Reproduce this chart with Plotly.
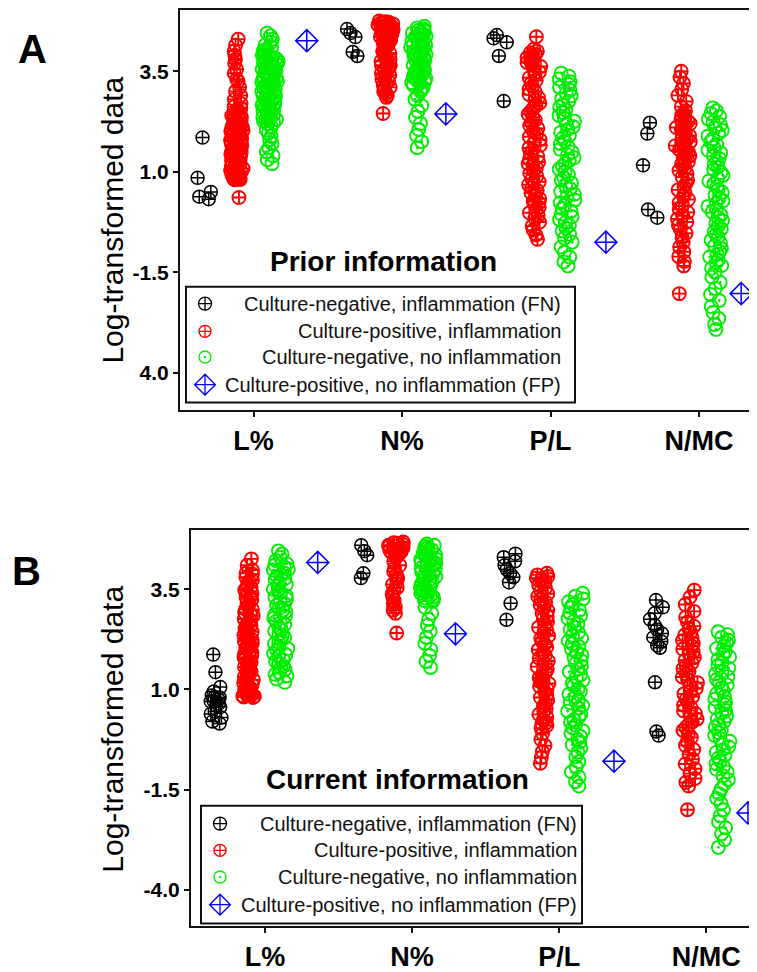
import plotly.graph_objects as go

# ---------------- data ----------------
categories = ["L%", "N%", "P/L", "N/MC"]
group_names = [
    "Culture-negative, inflammation (FN)",
    "Culture-positive, inflammation",
    "Culture-negative, no inflammation",
    "Culture-positive, no inflammation (FP)",
]
ytick_vals = [3.5, 1.0, -1.5, -4.0]
ytick_text_A = ["3.5", "1.0", "-1.5", "4.0"]
ytick_text_B = ["3.5", "1.0", "-1.5", "-4.0"]

# Panel A (Prior information): one list per category (L%, N%, P/L, N/MC)
prior_fn = [
    [1.85, 0.85, 0.5, 0.38, 0.32],
    [4.55, 4.45, 4.35, 3.98, 3.88],
    [4.4, 4.32, 4.22, 3.88, 2.76],
    [2.22, 1.95, 1.16, 0.06, -0.14],
]
prior_pos = [
    [4.3, 4.15, 4.0, 3.9, 3.8, 3.7, 3.55, 3.45, 3.3, 3.25, 3.1, 3.0, 2.9, 2.8, 2.7, 2.62, 2.55, 2.48,
     2.42, 2.36, 2.3, 2.24, 2.18, 2.12, 2.06, 2.0, 1.95, 1.9, 1.85, 1.8, 1.75, 1.7, 1.65, 1.6, 1.55,
     1.5, 1.45, 1.4, 1.35, 1.3, 1.25, 1.2, 1.15, 1.1, 1.05, 1.0, 0.95, 0.9, 0.87, 0.84, 0.82, 0.8,
     0.81, 0.83, 0.86, 0.92, 0.97, 1.03, 1.08, 1.13, 1.18, 1.23, 1.28, 1.33, 1.38, 1.43, 1.48, 1.53,
     1.58, 1.63, 1.68, 1.73, 1.78, 1.83, 1.88, 1.93, 1.98, 2.03, 2.09, 2.15, 2.21, 2.27, 2.33, 2.4,
     2.5, 2.58, 0.36],
    [4.75, 4.72, 4.7, 4.68, 4.65, 4.62, 4.6, 4.58, 4.55, 4.52, 4.5, 4.48, 4.45, 4.42, 4.4, 4.38, 4.35,
     4.32, 4.3, 4.27, 4.25, 4.22, 4.2, 4.73, 4.67, 4.63, 4.57, 4.53, 4.47, 4.43, 4.37, 4.33, 4.28,
     4.15, 4.1, 4.05, 4.0, 3.95, 3.9, 3.85, 3.8, 3.75, 3.7, 3.65, 3.6, 3.55, 3.5, 3.45, 3.4, 3.35,
     3.3, 3.25, 3.2, 3.15, 3.1, 3.05, 3.0, 2.95, 2.9, 2.85, 3.65, 2.45],
    [4.36, 4.05, 4.0, 3.96, 3.92, 3.88, 3.84, 3.8, 3.76, 3.72, 3.68, 3.62, 3.55, 3.48, 3.41, 3.34,
     3.27, 3.2, 3.13, 3.06, 2.99, 2.92, 2.85, 2.78, 2.71, 2.64, 2.57, 2.5, 2.43, 2.36, 2.29, 2.22,
     2.15, 2.08, 2.01, 1.94, 1.87, 1.8, 1.73, 1.66, 1.59, 1.52, 1.45, 1.38, 1.31, 1.24, 1.2, 1.17,
     1.1, 1.03, 0.96, 0.89, 0.82, 0.75, 0.68, 0.61, 0.54, 0.47, 0.4, 0.33, 0.26, 0.23, 0.19, 0.12,
     0.05, -0.02, -0.09, -0.16, -0.25, -0.35, -0.45, -0.57, -0.68],
    [3.5, 3.35, 3.2, 3.05, 2.9, 2.75, 2.62, 2.52, 2.45, 2.4, 2.35, 2.3, 2.25, 2.2, 2.15, 2.1, 2.05,
     2.0, 1.95, 1.9, 1.85, 1.8, 1.75, 1.7, 1.65, 1.6, 1.55, 1.5, 1.45, 1.4, 1.35, 1.3, 1.25, 1.2,
     1.15, 1.1, 1.03, 0.95, 0.87, 0.79, 0.71, 0.63, 0.55, 0.47, 0.39, 0.31, 0.23, 0.15, 0.07, -0.01,
     -0.09, -0.17, -0.25, -0.33, -0.43, -0.53, -0.63, -0.75, -0.87, -0.99, -1.11, -1.23, -1.34, -2.03],
]
prior_neg = [
    [4.45, 4.38, 4.3, 4.22, 4.15, 4.1, 4.05, 4.0, 3.95, 3.9, 3.85, 3.8, 3.75, 3.7, 3.65, 3.6, 3.55,
     3.5, 3.45, 3.4, 3.35, 3.3, 3.25, 3.2, 3.15, 3.1, 3.05, 3.0, 2.95, 2.9, 2.85, 2.8, 2.75, 2.7,
     2.65, 2.6, 2.55, 2.5, 2.45, 2.4, 2.35, 2.3, 2.25, 2.2, 2.12, 2.04, 1.96, 1.88, 1.8, 1.7, 1.6,
     1.5, 1.4, 1.3, 1.2, 4.02, 3.97, 3.92, 3.87, 3.82, 3.77, 3.72, 3.67, 3.62, 3.57, 3.52, 3.47,
     3.42, 3.37, 3.32, 3.27, 3.22, 3.17, 3.12, 3.07, 3.02, 2.97, 2.92, 2.87, 2.82, 2.77, 2.72, 2.67,
     2.62, 2.57, 2.52, 2.47, 2.42, 2.37, 2.32, 2.27, 2.22],
    [4.62, 4.58, 4.55, 4.52, 4.5, 4.47, 4.45, 4.42, 4.4, 4.37, 4.35, 4.32, 4.3, 4.27, 4.25, 4.22,
     4.2, 4.17, 4.15, 4.12, 4.1, 4.07, 4.05, 4.02, 4.0, 3.97, 3.95, 3.92, 3.9, 3.87, 3.85, 3.82, 3.8,
     3.77, 3.75, 3.72, 3.7, 3.67, 3.65, 3.62, 3.6, 3.57, 3.55, 3.52, 3.5, 3.47, 3.45, 3.42, 3.4,
     3.37, 3.35, 3.32, 3.3, 3.27, 3.25, 3.22, 3.2, 3.15, 3.1, 3.05, 3.0, 2.9, 2.8, 2.65, 2.5, 2.35,
     2.2, 2.05, 1.9, 1.75, 1.6],
    [3.45, 3.38, 3.31, 3.24, 3.17, 3.1, 3.03, 2.96, 2.89, 2.82, 2.75, 2.68, 2.61, 2.54, 2.47, 2.4,
     2.33, 2.26, 2.19, 2.12, 2.05, 1.98, 1.91, 1.84, 1.77, 1.7, 1.63, 1.56, 1.49, 1.42, 1.35, 1.28,
     1.21, 1.14, 1.07, 1.0, 0.93, 0.86, 0.79, 0.72, 0.65, 0.58, 0.51, 0.44, 0.37, 0.3, 0.23, 0.16,
     0.09, 0.02, -0.05, -0.12, -0.19, -0.26, -0.33, -0.4, -0.47, -0.55, -0.65, -0.75, -0.87, -1.0,
     -1.12, -1.24, -1.34],
    [2.59, 2.52, 2.45, 2.38, 2.31, 2.24, 2.17, 2.1, 2.03, 1.96, 1.89, 1.82, 1.75, 1.68, 1.61, 1.54,
     1.47, 1.4, 1.33, 1.26, 1.19, 1.12, 1.05, 0.98, 0.91, 0.84, 0.77, 0.7, 0.63, 0.56, 0.49, 0.42,
     0.35, 0.28, 0.21, 0.14, 0.07, 0.0, -0.07, -0.14, -0.21, -0.28, -0.35, -0.42, -0.49, -0.56,
     -0.63, -0.7, -0.77, -0.84, -0.91, -0.98, -1.05, -1.12, -1.19, -1.26, -1.33, -1.4, -1.5, -1.62,
     -1.75, -1.9, -2.05, -2.2, -2.35, -2.5, -2.65, -2.8, -2.92],
]
prior_fp = [[4.26], [2.44], [-0.75], [-2.03]]

# Panel B (Current information)
current_fn = [
    [1.87, 1.43, 1.06, 0.95, 0.85, 0.8, 0.75, 0.7, 0.65, 0.6, 0.56, 0.45, 0.39, 0.3, 0.2, 0.15, 0.8, 0.7],
    [4.6, 4.45, 4.35, 3.9, 3.78],
    [4.39, 4.3, 4.2, 4.1, 4.0, 3.9, 3.8, 3.67, 3.15, 2.74],
    [3.23, 3.05, 2.9, 2.75, 2.6, 2.5, 2.4, 2.3, 2.2, 2.1, 2.04, 1.18, -0.05, -0.15],
]
current_pos = [
    [4.26, 4.1, 3.98, 3.88, 3.8, 3.72, 3.64, 3.56, 3.48, 3.4, 3.32, 3.24, 3.16, 3.08, 3.0, 2.92,
     2.84, 2.76, 2.68, 2.6, 2.52, 2.44, 2.36, 2.28, 2.2, 2.12, 2.04, 1.96, 1.88, 1.8, 1.72, 1.64,
     1.56, 1.48, 1.4, 1.32, 1.24, 1.16, 1.08, 1.0, 0.94, 0.88, 0.84, 0.81, 0.8, 0.83, 0.86, 0.9,
     0.97, 1.04, 1.12, 1.2, 1.28, 1.36, 1.44, 1.52, 1.6, 1.68, 1.76, 1.84, 1.92, 2.0, 2.08, 2.16,
     2.24, 2.32, 2.4, 2.5, 2.6, 2.72, 2.86, 3.0, 3.15, 3.3, 3.5, 3.7, 3.9],
    [4.68, 4.65, 4.62, 4.59, 4.56, 4.53, 4.5, 4.47, 4.44, 4.41, 4.38, 4.66, 4.6, 4.54, 4.48, 4.42,
     4.3, 4.2, 4.1, 4.02, 3.94, 3.86, 3.78, 3.7, 3.62, 3.54, 3.46, 3.38, 3.3, 3.22, 3.14, 3.06, 2.98,
     2.9, 2.41],
    [3.9, 3.86, 3.82, 3.78, 3.74, 3.7, 3.67, 3.6, 3.53, 3.46, 3.39, 3.32, 3.25, 3.18, 3.11, 3.04,
     2.97, 2.9, 2.83, 2.76, 2.69, 2.62, 2.55, 2.48, 2.41, 2.34, 2.27, 2.2, 2.13, 2.06, 1.99, 1.92,
     1.85, 1.78, 1.71, 1.64, 1.57, 1.5, 1.43, 1.36, 1.29, 1.22, 1.18, 1.15, 1.08, 1.01, 0.94, 0.87,
     0.8, 0.73, 0.66, 0.59, 0.52, 0.45, 0.38, 0.31, 0.24, 0.17, 0.15, 0.1, 0.03, -0.1, -0.25, -0.4,
     -0.55, -0.7, -0.84],
    [3.48, 3.3, 3.12, 2.95, 2.8, 2.68, 2.58, 2.5, 2.43, 2.36, 2.29, 2.22, 2.15, 2.08, 2.01, 1.94,
     1.87, 1.8, 1.73, 1.66, 1.59, 1.52, 1.45, 1.38, 1.31, 1.24, 1.17, 1.1, 1.03, 0.96, 0.89, 0.82,
     0.75, 0.68, 0.61, 0.54, 0.47, 0.4, 0.33, 0.26, 0.19, 0.12, 0.05, -0.02, -0.1, -0.2, -0.3, -0.4,
     -0.5, -0.62, -0.74, -0.86, -0.98, -1.1, -1.22, -1.32, -1.41, -2.0],
]
current_neg = [
    [4.46, 4.38, 4.3, 4.22, 4.14, 4.06, 3.98, 3.9, 3.82, 3.74, 3.66, 3.58, 3.5, 3.42, 3.34, 3.26,
     3.18, 3.1, 3.02, 2.94, 2.86, 2.78, 2.7, 2.62, 2.54, 2.46, 2.38, 2.3, 2.22, 2.14, 2.06, 1.98,
     1.9, 1.82, 1.74, 1.66, 1.58, 1.5, 1.42, 1.34, 1.26, 1.18, 4.1, 4.0, 3.87, 3.77, 3.62, 3.46, 3.3,
     3.14, 2.98, 2.82, 2.66, 2.5, 2.34, 2.18, 2.02, 1.86, 1.7, 1.54, 1.38],
    [4.63, 4.6, 4.57, 4.54, 4.51, 4.48, 4.45, 4.42, 4.39, 4.36, 4.33, 4.3, 4.27, 4.24, 4.21, 4.18,
     4.15, 4.12, 4.09, 4.06, 4.03, 4.0, 3.97, 3.94, 3.91, 3.88, 3.85, 3.82, 3.79, 3.76, 3.73, 3.7,
     3.67, 3.64, 3.61, 3.58, 3.55, 3.52, 3.49, 3.46, 3.43, 3.4, 3.37, 3.34, 3.31, 3.28, 3.25, 3.22,
     3.2, 3.05, 2.9, 2.75, 2.6, 2.45, 2.3, 2.15, 2.0, 1.85, 1.7, 1.55],
    [3.4, 3.33, 3.26, 3.19, 3.12, 3.05, 2.98, 2.91, 2.84, 2.77, 2.7, 2.63, 2.56, 2.49, 2.42, 2.35,
     2.28, 2.21, 2.14, 2.07, 2.0, 1.93, 1.86, 1.79, 1.72, 1.65, 1.58, 1.51, 1.44, 1.37, 1.3, 1.23,
     1.16, 1.09, 1.02, 0.95, 0.88, 0.81, 0.74, 0.67, 0.6, 0.53, 0.46, 0.39, 0.32, 0.25, 0.18, 0.11,
     0.04, -0.03, -0.1, -0.17, -0.24, -0.31, -0.38, -0.46, -0.56, -0.68, -0.8, -0.93, -1.06, -1.19,
     -1.3, -1.41],
    [2.44, 2.37, 2.3, 2.23, 2.16, 2.09, 2.02, 1.95, 1.88, 1.81, 1.74, 1.67, 1.6, 1.53, 1.46, 1.39,
     1.32, 1.25, 1.18, 1.11, 1.04, 0.97, 0.9, 0.83, 0.76, 0.69, 0.62, 0.55, 0.48, 0.41, 0.34, 0.27,
     0.2, 0.13, 0.06, -0.01, -0.08, -0.15, -0.22, -0.29, -0.36, -0.43, -0.5, -0.57, -0.64, -0.71,
     -0.78, -0.85, -0.92, -0.99, -1.06, -1.15, -1.25, -1.36, -1.48, -1.6, -1.72, -1.85, -2.0, -2.15,
     -2.3, -2.45, -2.6, -2.75, -2.94],
]
current_fp = [[4.17], [2.39], [-0.79], [-2.08]]

# ---------------- styling ----------------
OFF = 8                       # page body margin
W, H = 757 - OFF, 972 - OFF   # figure size so the page fits the window
FONT = "Liberation Sans, Arial, sans-serif"
colors = ["#000000", "#ff0000", "#00ee00", "#0000ff"]
symbols = ["circle-cross-open", "circle-cross-open", "circle-open-dot", "diamond-cross-open"]
sizes = [13, 13, 13, 17]
line_widths = [1.5, 1.9, 1.9, 1.5]


def px(x):
    """window pixel x -> paper fraction"""
    return (x - OFF) / W


def py(y):
    """window pixel y -> paper fraction"""
    return 1 - (y - OFF) / H


fig = go.Figure()


def add_panel(groups, xa, ya, align):
    for g, vals_by_cat in enumerate(groups):
        xs, ys = [], []
        for i, vals in enumerate(vals_by_cat):
            xs += [i] * len(vals)
            ys += vals
        fig.add_trace(go.Box(
            x=xs, y=ys, name=group_names[g], xaxis=xa, yaxis=ya,
            alignmentgroup=align, offsetgroup=str(g),
            boxpoints="all", jitter=0.5, pointpos=0,
            fillcolor="rgba(0,0,0,0)", line=dict(width=0, color="rgba(0,0,0,0)"),
            marker=dict(symbol=symbols[g], size=sizes[g], color=colors[g],
                        line=dict(color=colors[g], width=line_widths[g])),
            showlegend=False, hoverinfo="y",
        ))


add_panel([prior_fn, prior_pos, prior_neg, prior_fp], "x", "y", "A")
add_panel([current_fn, current_pos, current_neg, current_fp], "x2", "y2", "B")

# legend keys drawn on a pixel-coordinate overlay axis
legend_specs = [
    # (box x0, y0, x1, y1, key x, text right x, row ys) in window pixels
    (186, 288, 575, 405, 205, 563, [305, 333, 359, 387]),
    (201, 813, 582, 932, 220, 579, [831, 858, 885, 913]),
]
key_sizes = [13, 12, 12, 16]
shapes = []
annotations = []
for (x0, y0, x1, y1, kx, tx, rows) in legend_specs:
    shapes.append(dict(type="rect", xref="paper", yref="paper", x0=px(x0), x1=px(x1),
                       y0=py(y1), y1=py(y0), line=dict(color="#111111", width=2),
                       fillcolor="rgba(255,255,255,0)"))
    for g in range(4):
        fig.add_trace(go.Scatter(
            x=[kx], y=[rows[g]], xaxis="x3", yaxis="y3", mode="markers",
            marker=dict(symbol=symbols[g], size=key_sizes[g], color=colors[g],
                        line=dict(color=colors[g], width=1.3)),
            showlegend=False, hoverinfo="skip"))
        annotations.append(dict(text=group_names[g], xref="paper", yref="paper",
                                x=px(tx), y=py(rows[g]), xanchor="right", yanchor="middle",
                                showarrow=False, font=dict(family=FONT, size=20, color="#111111")))

# panel titles, letters, y-axis titles
annotations += [
    dict(text="<b>Prior information</b>", x=px(383), y=py(262), xref="paper", yref="paper",
         showarrow=False, xanchor="center", yanchor="middle",
         font=dict(family=FONT, size=28, color="black")),
    dict(text="<b>Current information</b>", x=px(397), y=py(786), xref="paper", yref="paper",
         showarrow=False, xanchor="center", yanchor="middle",
         font=dict(family=FONT, size=28, color="black")),
    dict(text="<b>A</b>", x=px(32), y=py(47), xref="paper", yref="paper", showarrow=False,
         xanchor="center", yanchor="middle", font=dict(family=FONT, size=40, color="black")),
    dict(text="<b>B</b>", x=px(26), y=py(575), xref="paper", yref="paper", showarrow=False,
         xanchor="center", yanchor="middle", font=dict(family=FONT, size=40, color="black")),
    dict(text="Log-transformed data", x=px(113), y=py(220), xref="paper", yref="paper",
         showarrow=False, textangle=-90, xanchor="center", yanchor="middle",
         font=dict(family=FONT, size=30, color="black")),
    dict(text="Log-transformed data", x=px(113), y=py(735), xref="paper", yref="paper",
         showarrow=False, textangle=-90, xanchor="center", yanchor="middle",
         font=dict(family=FONT, size=30, color="black")),
]

xaxis_common = dict(
    tickmode="array", tickvals=[0, 1, 2, 3], ticktext=["<b>%s</b>" % c for c in categories],
    showline=True, linecolor="#111111", linewidth=2, mirror=True,
    ticks="outside", ticklen=5, tickwidth=2, tickcolor="#111111",
    showgrid=False, zeroline=False, tickfont=dict(family=FONT, size=27, color="black"),
)
yaxis_common = dict(
    tickmode="array", tickvals=ytick_vals,
    showline=True, linecolor="#111111", linewidth=2, mirror=False,
    ticks="outside", ticklen=5, tickwidth=2, tickcolor="#111111",
    showgrid=False, zeroline=False, tickfont=dict(family=FONT, size=21, color="black"),
)

fig.update_layout(
    width=W, height=H, margin=dict(l=0, r=0, t=0, b=0),
    paper_bgcolor="white", plot_bgcolor="rgba(0,0,0,0)",
    boxmode="group", boxgap=0.12, boxgroupgap=0,
    xaxis=dict(domain=[px(180), 1.0], range=[-0.495, 3.39], anchor="y", **xaxis_common),
    yaxis=dict(domain=[py(413), py(8)], range=[-4.934, 5.024], anchor="x",
               ticktext=["<b>%s</b>" % t for t in ytick_text_A], **yaxis_common),
    xaxis2=dict(domain=[px(191), 1.0], range=[-0.503, 3.345], anchor="y2", **xaxis_common),
    yaxis2=dict(domain=[py(935), py(534)], range=[-4.913, 4.98], anchor="x2",
                ticktext=["<b>%s</b>" % t for t in ytick_text_B], **yaxis_common),
    xaxis3=dict(domain=[0, 1], range=[OFF, OFF + W], visible=False, anchor="y3"),
    yaxis3=dict(domain=[0, 1], range=[OFF + H, OFF], visible=False, anchor="x3"),
    shapes=shapes, annotations=annotations,
    font=dict(family=FONT),
)

fig.write_html("out.html")
